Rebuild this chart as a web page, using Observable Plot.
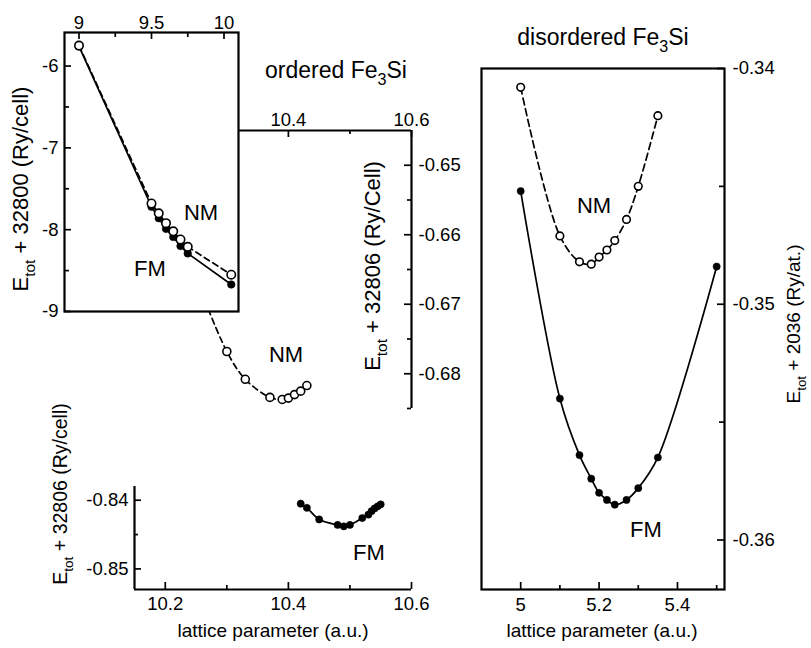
<!DOCTYPE html>
<html><head><meta charset="utf-8">
<script src="https://cdn.jsdelivr.net/npm/d3@7"></script>
<script src="https://cdn.jsdelivr.net/npm/@observablehq/plot@0.6"></script>
<style>
body{margin:0;background:#fff;}
#chart{position:relative;width:811px;height:648px;}
#chart svg{position:absolute;left:0;top:0;}
</style></head><body><div id="chart"></div>
<script>
// ---------- data ----------
// inset (ordered Fe3Si, wide range), E_tot + 32800 (Ry/cell)
const insetLattice = [9.0, 9.5, 9.55, 9.6, 9.65, 9.7, 9.75, 10.05];
const insetNM = [-5.75, -7.68, -7.80, -7.92, -8.02, -8.12, -8.21, -8.55];
const insetFM = [-5.76, -7.72, -7.86, -7.99, -8.09, -8.20, -8.29, -8.67];
const insetXTicks = [9, 9.5, 10];
const insetXMinor = [9.25, 9.75];
const insetYTicks = [-6, -7, -8, -9];
const insetYMinor = [-6.5, -7.5, -8.5];

// ordered Fe3Si, NM branch, E_tot + 32806 (Ry/Cell)
const orderedNMLattice = [10.24, 10.30, 10.33, 10.37, 10.39, 10.40, 10.41, 10.42, 10.43];
const orderedNM = [-0.664, -0.6768, -0.6808, -0.6834, -0.6837, -0.6835, -0.6830, -0.6825, -0.6817];
const upperXTicks = [10.2, 10.4, 10.6];
const upperXMinor = [10.3, 10.5];
const upperYTicks = [-0.65, -0.66, -0.67, -0.68];
const upperYMinor = [-0.655, -0.665, -0.675, -0.685];

// ordered Fe3Si, FM branch, E_tot + 32806 (Ry/cell)
const orderedFMLattice = [10.42, 10.43, 10.45, 10.48, 10.49, 10.50, 10.52, 10.53, 10.535, 10.54, 10.545, 10.55];
const orderedFM = [-0.8405, -0.8411, -0.8428, -0.8436, -0.8438, -0.8436, -0.8426, -0.8421, -0.8416, -0.8412, -0.8409, -0.8406];
const lowerXTicks = [10.2, 10.4, 10.6];
const lowerXMinor = [10.3, 10.5];
const lowerYTicks = [-0.84, -0.85];
const lowerYMinor = [-0.845];

// disordered Fe3Si, E_tot + 2036 (Ry/at.)
const disNMLattice = [5.0, 5.10, 5.15, 5.18, 5.20, 5.22, 5.24, 5.27, 5.30, 5.35];
const disNM = [-0.3408, -0.3471, -0.3482, -0.3483, -0.3480, -0.3477, -0.3473, -0.3464, -0.3450, -0.3420];
const disFMLattice = [5.0, 5.10, 5.15, 5.18, 5.20, 5.22, 5.24, 5.27, 5.30, 5.35, 5.50];
const disFM = [-0.3452, -0.3540, -0.3564, -0.3574, -0.3580, -0.3583, -0.3585, -0.3583, -0.3578, -0.3565, -0.3484];
const disXTicks = [5, 5.2, 5.4];
const disXMinor = [5.1, 5.3, 5.5];
const disYTicks = [-0.34, -0.35, -0.36];
const disYMinor = [-0.345, -0.355];

// ---------- helpers ----------
const FONT = '"Liberation Sans", Arial, Helvetica, sans-serif';
const INK = "#000";
const TICK_FS = 18.5;
const LW = 1.7;
const table = (xs, ys) => xs.map((x, i) => ({x, y: ys[i]}));
const fmt = d => String(d);

const ticksBottom = (v, len, H) => Plot.tickX(v, {x: d => d, insetTop: H - len, stroke: INK, strokeWidth: 1.7});
const ticksTop = (v, len, H) => Plot.tickX(v, {x: d => d, insetBottom: H - len, stroke: INK, strokeWidth: 1.7});
const ticksLeft = (v, len, W) => Plot.tickY(v, {y: d => d, insetRight: W - len, stroke: INK, strokeWidth: 1.7});
const ticksRight = (v, len, W) => Plot.tickY(v, {y: d => d, insetLeft: W - len, stroke: INK, strokeWidth: 1.7});

function panel(o, marksFn) {
  const W = o.right - o.left, H = o.bottom - o.top;
  return Plot.plot({
    width: 811, height: 648,
    marginLeft: o.left, marginRight: 811 - o.right,
    marginTop: o.top, marginBottom: 648 - o.bottom,
    x: {domain: o.xDomain}, y: {domain: o.yDomain},
    style: {background: "none", fontFamily: FONT, overflow: "visible", color: INK},
    marks: marksFn(W, H)
  });
}
const nmLine = (t, curve, dash) => Plot.line(t, {x: "x", y: "y", stroke: INK, strokeWidth: LW, strokeDasharray: dash, curve});
const fmLine = (t, curve) => Plot.line(t, {x: "x", y: "y", stroke: INK, strokeWidth: LW, curve});
const nmDots = (t, r) => Plot.dot(t, {x: "x", y: "y", r, fill: "white", stroke: INK, strokeWidth: 1.6});
const fmDots = (t, r) => Plot.dot(t, {x: "x", y: "y", r, fill: INK, stroke: INK, strokeWidth: 0.5});

const chart = document.getElementById("chart");

// ordered, upper (NM) section
chart.append(panel({left: 134, right: 411, top: 130, bottom: 408, xDomain: [10.15, 10.6], yDomain: [-0.685, -0.645]}, (W, H) => [
  Plot.ruleY([-0.645], {stroke: INK, strokeWidth: 2.2}),
  Plot.ruleX([10.6], {stroke: INK, strokeWidth: 2.2}),
  ticksTop(upperXTicks, 7, H), ticksTop(upperXMinor, 4, H),
  ticksRight(upperYTicks, 7, W), ticksRight(upperYMinor, 4, W),
  Plot.axisX({anchor: "top", ticks: upperXTicks, tickSize: 0, tickPadding: 5, tickFormat: fmt, label: null, fontSize: TICK_FS}),
  Plot.axisY({anchor: "right", ticks: upperYTicks, tickSize: 0, tickPadding: 7, tickFormat: fmt, label: null, fontSize: TICK_FS}),
  nmLine(table(orderedNMLattice, orderedNM), "catmull-rom", "6,4"),
  nmDots(table(orderedNMLattice, orderedNM), 4)
]));

// ordered, lower (FM) section
chart.append(panel({left: 134, right: 411, top: 486, bottom: 589, xDomain: [10.15, 10.6], yDomain: [-0.853, -0.838]}, (W, H) => [
  Plot.ruleY([-0.853], {stroke: INK, strokeWidth: 2.2}),
  Plot.ruleX([10.15], {stroke: INK, strokeWidth: 2.2}),
  ticksBottom(lowerXTicks, 7, H), ticksBottom(lowerXMinor, 4, H),
  ticksLeft(lowerYTicks, 7, W), ticksLeft(lowerYMinor, 4, W),
  Plot.axisX({anchor: "bottom", ticks: lowerXTicks, tickSize: 0, tickPadding: 7, tickFormat: fmt, label: null, fontSize: TICK_FS}),
  Plot.axisY({anchor: "left", ticks: lowerYTicks, tickSize: 0, tickPadding: 6, tickFormat: fmt, label: null, fontSize: TICK_FS}),
  fmLine(table(orderedFMLattice, orderedFM), "catmull-rom"),
  fmDots(table(orderedFMLattice, orderedFM), 3.6)
]));

// disordered panel
chart.append(panel({left: 481, right: 724, top: 68, bottom: 589, xDomain: [4.9, 5.52], yDomain: [-0.3621, -0.34]}, (W, H) => [
  Plot.frame({stroke: INK, strokeWidth: 2.2}),
  ticksBottom(disXTicks, 7, H), ticksBottom(disXMinor, 4, H),
  ticksRight(disYTicks, 7, W), ticksRight(disYMinor, 5, W),
  Plot.axisX({anchor: "bottom", ticks: disXTicks, tickSize: 0, tickPadding: 8, tickFormat: fmt, label: null, fontSize: TICK_FS}),
  Plot.axisY({anchor: "right", ticks: disYTicks, tickSize: 0, tickPadding: 8, tickFormat: fmt, label: null, fontSize: TICK_FS}),
  fmLine(table(disFMLattice, disFM), "catmull-rom"),
  nmLine(table(disNMLattice, disNM), "catmull-rom", "7,4"),
  fmDots(table(disFMLattice, disFM), 3.6),
  nmDots(table(disNMLattice, disNM), 3.8)
]));

// inset (on top of the ordered upper section)
chart.append(panel({left: 64, right: 238, top: 32, bottom: 311, xDomain: [8.9, 10.1], yDomain: [-9, -5.59]}, (W, H) => [
  Plot.frame({fill: "white", stroke: INK, strokeWidth: 2.2}),
  ticksTop(insetXTicks, 7, H), ticksTop(insetXMinor, 5, H),
  ticksLeft(insetYTicks, 7, W), ticksLeft(insetYMinor, 5, W),
  Plot.axisX({anchor: "top", ticks: insetXTicks, tickSize: 0, tickPadding: 4, tickFormat: fmt, label: null, fontSize: TICK_FS}),
  Plot.axisY({anchor: "left", ticks: insetYTicks, tickSize: 0, tickPadding: 6, tickFormat: fmt, label: null, fontSize: TICK_FS}),
  fmLine(table(insetLattice, insetFM), "linear"),
  nmLine(table(insetLattice, insetNM), "linear", "6,4"),
  fmDots(table(insetLattice, insetFM), 3.8),
  nmDots(table(insetLattice, insetNM), 4.2)
]));

// ---------- text overlay ----------
const overlay = d3.create("svg").attr("width", 811).attr("height", 648)
  .style("font-family", FONT).style("overflow", "visible");
function label(segs, {x, y, size, rotate = false, anchor = "middle"}) {
  const t = overlay.append("text").attr("font-size", size).attr("text-anchor", anchor).attr("fill", INK);
  if (rotate) t.attr("transform", `translate(${x},${y}) rotate(-90)`);
  else t.attr("x", x).attr("y", y);
  let shift = 0;
  for (const [s, sub] of segs) {
    const ts = t.append("tspan").text(s);
    const target = sub ? size * 0.3 : 0;
    ts.attr("dy", target - shift);
    shift = target;
    if (sub) ts.attr("font-size", size * 0.7);
  }
}
label([["ordered Fe", false], ["3", true], ["Si", false]], {x: 336, y: 78, size: 23});
label([["disordered Fe", false], ["3", true], ["Si", false]], {x: 603, y: 45, size: 23});
label([["lattice parameter (a.u.)", false]], {x: 273, y: 637, size: 19});
label([["lattice parameter (a.u.)", false]], {x: 602, y: 637, size: 19});
label([["E", false], ["tot", true], [" + 32800 (Ry/cell)", false]], {x: 28, y: 189, size: 22, rotate: true});
label([["E", false], ["tot", true], [" + 32806 (Ry/Cell)", false]], {x: 380, y: 266, size: 22, rotate: true});
label([["E", false], ["tot", true], [" + 32806 (Ry/cell)", false]], {x: 67, y: 494, size: 19.5, rotate: true});
label([["E", false], ["tot", true], [" + 2036 (Ry/at.)", false]], {x: 800, y: 324, size: 19, rotate: true});
label([["NM", false]], {x: 201, y: 220, size: 22});
label([["FM", false]], {x: 150, y: 276, size: 22});
label([["NM", false]], {x: 286, y: 362, size: 22});
label([["FM", false]], {x: 369, y: 560, size: 22});
label([["NM", false]], {x: 594, y: 213, size: 22});
label([["FM", false]], {x: 646, y: 537, size: 22});
chart.append(overlay.node());
</script></body></html>
